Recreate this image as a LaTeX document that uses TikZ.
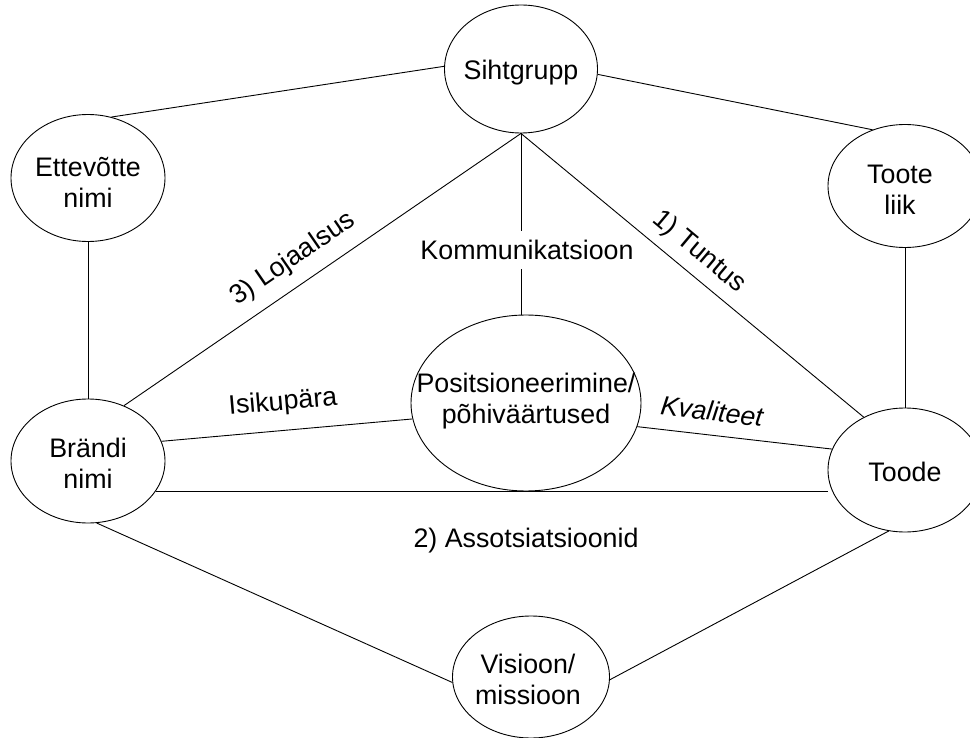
\documentclass[tikz,border=0pt]{standalone}
\usepackage{fontspec}
\setmainfont{Liberation Sans}
\usetikzlibrary{shapes.geometric}
\begin{document}
\begin{tikzpicture}[x=1pt,y=-1pt,
  ell/.style={draw, ellipse, inner sep=0pt, line width=0.9pt},
  lbl/.style={inner sep=0pt, font=\fontsize{26.8}{31}\selectfont, align=center},
  conn/.style={line width=0.9pt}]
\useasboundingbox (0,0) rectangle (970,738);
% ellipses
\node[ell, minimum width=153pt, minimum height=128pt] (sg) at (521,69) {};
\node[ell, minimum width=154pt, minimum height=127pt] (ett) at (88,178) {};
\node[ell, minimum width=154pt, minimum height=123pt] (tl) at (905,186) {};
\node[ell, minimum width=230pt, minimum height=176pt] (posn) at (526,403) {};
\node[ell, minimum width=154pt, minimum height=124pt] (br) at (88,461) {};
\node[ell, minimum width=154pt, minimum height=124pt] (tood) at (905,470) {};
\node[ell, minimum width=157pt, minimum height=122pt] (vis) at (531,677) {};
% texts inside
\node[lbl] (sgT) at (521,73) {Sihtgrupp};
\node[lbl] (ettT) at (88,182) {Ettevõtte\\nimi};
\node[lbl] (tlT) at (900,190) {Toote\\liik};
\node[lbl] (posT) at (526,401) {Positsioneerimine/\\põhiväärtused};
\node[lbl] (brT) at (88,463) {Brändi\\nimi};
\node[lbl] (toT) at (905,472) {Toode};
\node[lbl] (visT) at (528,679) {Visioon/\\missioon};
% edge labels
\node[lbl, rotate=34.5] (lojT) at (293,259) {3) Lojaalsus};
\node[lbl, rotate=-40] (tunT) at (699,252) {1) Tuntus};
\node[lbl, anchor=base, inner ysep=9pt] (komm) at (527,260) {Kommunikatsioon};
\node[lbl, rotate=5] (isiT) at (283,403) {Isikupära};
\node[lbl, rotate=-7, font=\fontsize{26.8}{31}\selectfont\itshape] (kvaT) at (712,411) {Kvaliteet};
\node[lbl] (assT) at (526,541) {2) Assotsiatsioonid};
% connectors
\draw[conn] (sg.178) -- (ett.69);
\draw[conn] (sg.-4.5) -- (tl.120);
\draw[conn] (ett.south) -- (br.north);
\draw[conn] (tl.south) -- (tood.north);
\draw[conn] (br.57) -- (sg.south);
\draw[conn] (sg.south) -- (tood.128.5);
\draw[conn] (sg.south) -- (sg.south |- komm.north);
\draw[conn] (sg.south |- komm.south) -- (sg.south |- posn.north);
\draw[conn] (br.15) -- (posn.188);
\draw[conn] (posn.-12.5) -- (tood.164);
\draw[conn] (br.-24) -- (br.-24 -| tood.west);
\draw[conn] (br.-82) -- (vis.184);
\draw[conn] (tood.-105) -- (vis.-2);
\end{tikzpicture}
\end{document}
